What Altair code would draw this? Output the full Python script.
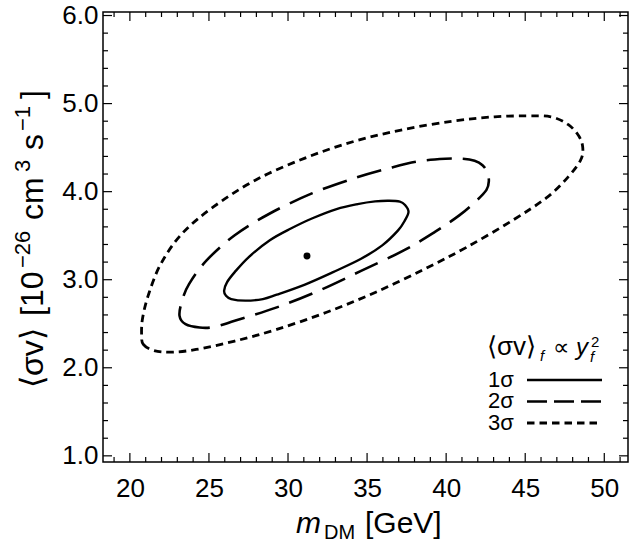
import altair as alt
import pandas as pd

# ---------------- data ----------------
x_1s = [25.96, 26.07, 26.41, 27.30, 28.41, 29.29, 31.07, 32.85, 34.62, 35.96, 36.96, 37.40, 37.62,
        37.40, 37.07, 36.40, 35.51, 34.40, 33.07, 31.51, 30.18, 28.85, 27.52, 26.63, 26.14]
y_1s = [2.876, 2.82, 2.78, 2.762, 2.78, 2.83, 2.945, 3.086, 3.238, 3.39, 3.56, 3.676, 3.771,
        3.848, 3.886, 3.897, 3.89, 3.859, 3.802, 3.695, 3.581, 3.448, 3.257, 3.086, 2.97]

x_2s = [23.14, 23.52, 24.41, 25.30, 26.63, 29.29, 31.96, 34.62, 37.29, 39.29, 40.85, 41.96, 42.55,
        42.70, 42.60, 42.30, 41.80, 41.06, 39.95, 38.18, 36.40, 34.18, 31.51, 28.85, 26.63, 24.85,
        23.74, 23.30]
y_2s = [2.59, 2.495, 2.457, 2.463, 2.533, 2.686, 2.876, 3.10, 3.33, 3.543, 3.733, 3.905, 4.02,
        4.12, 4.22, 4.30, 4.35, 4.373, 4.373, 4.343, 4.267, 4.152, 3.98, 3.752, 3.505, 3.219,
        2.95, 2.762]

x_3s = [20.74, 20.85, 21.52, 22.63, 24.19, 26.63, 29.29, 32.40, 35.51, 38.62, 41.29, 44.18, 46.40,
        47.73, 48.51, 48.64, 48.40, 47.73, 46.62, 45.06, 43.06, 40.40, 37.29, 34.18, 31.07, 27.96,
        25.30, 23.30, 21.96, 21.19, 20.81]
y_3s = [2.381, 2.265, 2.196, 2.177, 2.208, 2.303, 2.436, 2.627, 2.855, 3.12, 3.368, 3.672, 3.938,
        4.17, 4.36, 4.50, 4.628, 4.76, 4.85, 4.860, 4.850, 4.80, 4.705, 4.571, 4.381, 4.133,
        3.829, 3.524, 3.181, 2.838, 2.571]

best_x = [31.2]
best_y = [3.27]

x_labels = [20, 25, 30, 35, 40, 45, 50]
x_minor = [19, 21, 22, 23, 24, 26, 27, 28, 29, 31, 32, 33, 34, 36, 37, 38, 39, 41, 42, 43, 44,
           46, 47, 48, 49, 51]
y_labels = [1.0, 2.0, 3.0, 4.0, 5.0, 6.0]
y_minor = [1.2, 1.4, 1.6, 1.8, 2.2, 2.4, 2.6, 2.8, 3.2, 3.4, 3.6, 3.8, 4.2, 4.4, 4.6, 4.8,
           5.2, 5.4, 5.6, 5.8]

# ---------------- layout ----------------
W, H = 525, 450
FONT = "Liberation Sans"
xs = alt.Scale(domain=[18.3, 51.5], nice=False, zero=False)
ys = alt.Scale(domain=[0.93, 6.04], nice=False, zero=False)

xaxis = alt.Axis(values=x_labels, format="d", ticks=False, domain=False, grid=False,
                 labelFont=FONT, labelFontSize=26, labelPadding=13, labelColor="black",
                 labelFlush=False, labelOverlap=False, title=None)
yaxis = alt.Axis(values=y_labels, format=".1f", ticks=False, domain=False, grid=False,
                 labelFont=FONT, labelFontSize=26, labelPadding=5, labelColor="black",
                 labelFlush=False, labelOverlap=False, title=None)

X = lambda f="x": alt.X(f"{f}:Q", scale=xs, axis=xaxis)
Y = lambda f="y": alt.Y(f"{f}:Q", scale=ys, axis=yaxis)


def contour(xv, yv, dash, sw):
    df = pd.DataFrame({"x": xv, "y": yv, "i": list(range(len(xv)))})
    mk = dict(interpolate="cardinal-closed", color="black", strokeWidth=sw)
    if dash:
        mk["strokeDash"] = dash
    return alt.Chart(df).mark_line(**mk).encode(x=X(), y=Y(), order="i:Q")


layers = [
    contour(x_1s, y_1s, None, 2.4),
    contour(x_2s, y_2s, [25, 11], 2.6),
    contour(x_3s, y_3s, [7.5, 5], 2.8),
    alt.Chart(pd.DataFrame({"x": best_x, "y": best_y})).mark_point(
        filled=True, color="black", opacity=1, size=48, shape="circle").encode(x=X(), y=Y()),
]


def xticks(vals, ln):
    df = pd.DataFrame({"x": vals})
    b = alt.Chart(df).mark_rule(color="black", strokeWidth=1.2).encode(
        x=X(), y=alt.value(H), y2=alt.value(H - ln))
    t = alt.Chart(df).mark_rule(color="black", strokeWidth=1.2).encode(
        x=X(), y=alt.value(0), y2=alt.value(ln))
    return [b, t]


def yticks(vals, ln):
    df = pd.DataFrame({"y": vals})
    l = alt.Chart(df).mark_rule(color="black", strokeWidth=1.2).encode(
        y=Y(), x=alt.value(0), x2=alt.value(ln))
    r = alt.Chart(df).mark_rule(color="black", strokeWidth=1.2).encode(
        y=Y(), x=alt.value(W), x2=alt.value(W - ln))
    return [l, r]


layers += xticks(x_labels, 9) + xticks(x_minor, 5) + yticks(y_labels, 9) + yticks(y_minor, 5)


def txt(s, x, y, size, italic=False, align="left", baseline="alphabetic", angle=0):
    mk = dict(font=FONT, fontSize=size, color="black", align=align, baseline=baseline)
    if italic:
        mk["fontStyle"] = "italic"
    if angle:
        mk["angle"] = angle
    return alt.Chart(pd.DataFrame({"t": [s]})).mark_text(**mk).encode(
        x=alt.value(x), y=alt.value(y), text="t:N")


def lrule(x1, x2, y, dash, sw):
    mk = dict(color="black", strokeWidth=sw)
    if dash:
        mk["strokeDash"] = dash
    return alt.Chart(pd.DataFrame({"a": [0]})).mark_rule(**mk).encode(
        x=alt.value(x1), x2=alt.value(x2), y=alt.value(y))


# legend: header and one row per contour level
layers += [
    txt("⟨σv⟩", 384, 343, 26),
    txt("f", 437, 349, 15, italic=True),
    txt("∝", 450, 343, 23),
    txt("y", 473, 343, 24, italic=True),
    txt("2", 488, 335, 15),
    txt("f", 487, 350, 15, italic=True),
    txt("1σ", 385, 375, 22),
    txt("2σ", 385, 396, 22),
    txt("3σ", 385, 418, 22),
    lrule(424, 499, 368, None, 2.6),
    lrule(424, 499, 389.5, [20, 7], 2.6),
    lrule(424, 499, 411, [7.5, 5], 2.8),
]

# x axis title
layers += [
    txt("m", 193, 521, 30, italic=True),
    txt("DM", 221, 527, 20),
    txt("[GeV]", 262, 521, 30),
]

# y axis title, rotated pieces (main baseline and raised superscripts)
YB, YS = -60, -73
TOP = 12
ypieces = [
    ("⟨σv⟩", 388, YB, 32),
    ("[10", 316, YB, 32),
    ("−26", 268, YS, 22),
    ("cm", 220, YB, 32),
    ("3", 172, YS, 22),
    ("s", 150, YB, 32),
    ("−1", 131, YS, 22),
    ("]", 99, YB, 32),
]
for s, ya, xb, fs in ypieces:
    layers.append(txt(s, xb, ya - TOP, fs, align="left", baseline="alphabetic", angle=270))

chart = alt.layer(*layers).properties(
    width=W, height=H,
    autosize=alt.AutoSizeParams(type="none"),
    padding={"left": 103, "top": 12, "right": 3, "bottom": 82},
    background="white",
).configure_view(stroke="black", strokeWidth=1.5)

chart.save("out.html", embed_options={"renderer": "svg", "actions": False})
